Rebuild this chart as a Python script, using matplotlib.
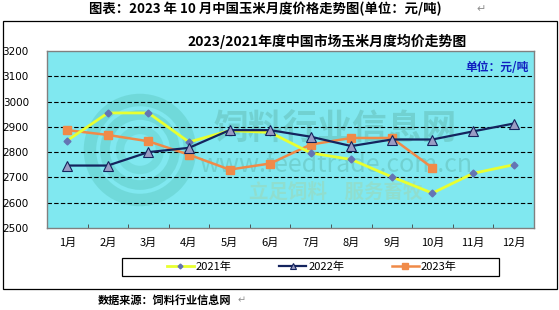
import matplotlib.pyplot as plt
from matplotlib.patches import Rectangle, Ellipse

plt.rcParams['font.family'] = ['Noto Sans CJK SC', 'DejaVu Sans']

# ---- data ----
months = ["1月", "2月", "3月", "4月", "5月", "6月", "7月", "8月", "9月", "10月", "11月", "12月"]
y2021 = [2846, 2955, 2955, 2840, 2885, 2878, 2797, 2771, 2702, 2638, 2716, 2750]
y2022 = [2747, 2747, 2800, 2817, 2887, 2887, 2861, 2824, 2850, 2850, 2882, 2913]
y2023 = [2887, 2868, 2843, 2790, 2731, 2755, 2830, 2856, 2856, 2738]
yticks = [2500, 2600, 2700, 2800, 2900, 3000, 3100, 3200]

fig = plt.figure(figsize=(5.59, 3.10), dpi=100)
fig.patch.set_facecolor("white")

# outer chart frame
fig.patches.append(Rectangle((0.0045, 0.068), 0.992, 0.864, transform=fig.transFigure,
                             fill=False, edgecolor="black", lw=0.9, zorder=0))

ax = fig.add_axes([0.084, 0.2645, 0.871, 0.571])
ax.set_facecolor("#80E8F0")
for s in ax.spines.values():
    s.set_color("#808080")
    s.set_linewidth(1.0)

x = list(range(1, 13))
ax.set_xlim(0.5, 12.5)
ax.set_ylim(2500, 3200)

# watermark (logo rings + site name)
wm = "#4f9f8c"
cx, cy = (140 - 47) / 487, (228 - 150) / 177
for r, w, a in [(50, 9, 0.22), (35, 7, 0.22), (20, 6, 0.18)]:
    ax.add_patch(Ellipse((cx, cy), 2 * r / 487, 2 * r / 177, transform=ax.transAxes,
                         fill=False, edgecolor="#3aa890", lw=w, alpha=a, zorder=1))
ax.text(0.593, 0.56, "饲料行业信息网", transform=ax.transAxes, fontsize=25, fontweight="bold",
        color=wm, alpha=0.3, ha="center", va="center", zorder=1)
ax.text(0.593, 0.355, "www.feedtrade.com.cn", transform=ax.transAxes, fontsize=18,
        color=wm, alpha=0.3, ha="center", va="center", zorder=1)
ax.text(0.593, 0.2, "立足饲料    服务畜牧", transform=ax.transAxes, fontsize=14, fontweight="bold",
        style="italic", color="#9fd6b0", alpha=0.5, ha="center", va="center", zorder=1)

for v in yticks[1:-1]:
    ax.axhline(v, color="black", lw=0.8, ls=(0, (4, 2)), zorder=2)

l1, = ax.plot(x, y2021, color="#E8FF30", lw=2.0, marker="D", ms=3.5,
              mfc="#6474B4", mec="#6474B4", zorder=4, label="2021年")
l2, = ax.plot(x, y2022, color="#14245E", lw=1.6, marker="^", ms=7,
              mfc="#9A9CC4", mec="#14245E", mew=0.8, zorder=5, label="2022年")
l3, = ax.plot(x[:len(y2023)], y2023, color="#F08A48", lw=1.8, marker="s", ms=6,
              mfc="#F08A48", mec="#F08A48", zorder=3, label="2023年")

ax.set_yticks(yticks)
ax.set_yticklabels([str(v) for v in yticks], fontsize=7.5, family="DejaVu Sans")
ax.tick_params(axis="y", length=0, pad=13)
ax.set_xticks(x)
ax.set_xticklabels(months, fontsize=8)
ax.tick_params(axis="x", length=0, pad=7)
ax.set_xticks([i + 0.5 for i in range(1, 12)], minor=True)
ax.tick_params(axis="x", which="minor", direction="in", length=3, color="#404040")

ax.text(0.99, 0.905, "单位：元/吨", transform=ax.transAxes, fontsize=8.5, fontweight="bold",
        color="#1020C0", ha="right", va="center", zorder=6)

# legend: own frame box, entries without frame
fig.patches.append(Rectangle((122 / 559, 1 - 276 / 310), 377 / 559, 18 / 310,
                             transform=fig.transFigure, fill=False,
                             edgecolor="black", lw=0.9))
fig.legend(handles=[l1, l2, l3], loc="center", bbox_to_anchor=(0.558, 0.139),
           ncol=3, frameon=False, fontsize=8, handlelength=2.4,
           columnspacing=4.3, handletextpad=0.2, markerscale=0.7)

fig.text(0.474, 0.971, "图表：2023 年 10 月中国玉米月度价格走势图(单位：元/吨)",
         fontsize=9.6, fontweight="bold", ha="center", va="center")
fig.text(0.86, 0.971, "↵", fontsize=8, color="#909090", ha="center", va="center",
         family="DejaVu Sans")
fig.text(0.585, 0.867, "2023/2021年度中国市场玉米月度均价走势图", fontsize=10,
         fontweight="bold", ha="center", va="center")
fig.text(0.174, 0.032, "数据来源：饲料行业信息网", fontsize=8, fontweight="bold",
         ha="left", va="center")
fig.text(0.432, 0.032, "↵", fontsize=7, color="#909090", ha="center", va="center",
         family="DejaVu Sans")

fig.savefig("out.png", dpi=100)
